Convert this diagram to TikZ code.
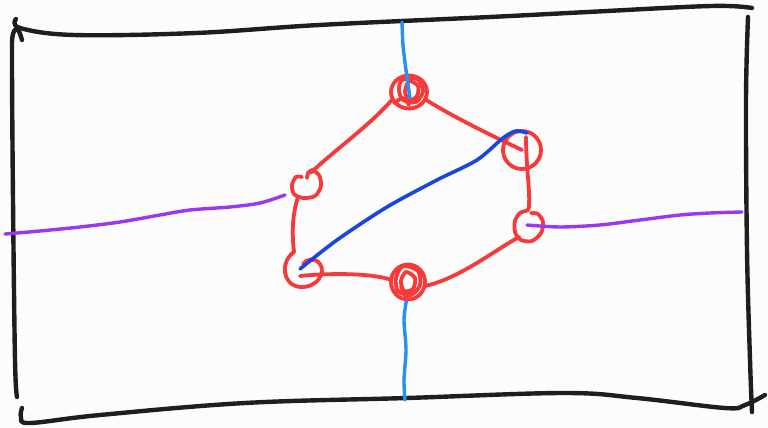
\documentclass[tikz,border=0pt]{standalone}
\usetikzlibrary{shapes.geometric}
\definecolor{bgc}{RGB}{252,252,252}
\definecolor{inkc}{RGB}{30,30,30}
\definecolor{redc}{RGB}{246,58,58}
\definecolor{lbluec}{RGB}{40,145,240}
\definecolor{dbluec}{RGB}{25,70,225}
\definecolor{purc}{RGB}{155,55,240}
\begin{document}
\begin{tikzpicture}[x=1pt,y=-1pt,line cap=round,line join=round,
  frame/.style={draw=inkc,line width=4.4pt},
  redline/.style={draw=redc,line width=3.8pt},
  hole/.style={ellipse,draw=none,inner sep=0pt},
  lblue/.style={draw=lbluec,line width=3.4pt},
  dblue/.style={draw=dbluec,line width=3.6pt},
  purline/.style={draw=purc,line width=3.4pt}]
\fill[bgc] (0,0) rectangle (768,428);
\useasboundingbox (0,0) rectangle (768,428);
% frame
\draw[frame] plot[smooth,tension=0.6] coordinates {(16,19) (20,28) (74,35) (196,33) (319,25) (490,17) (588,12) (711,6) (752,8)};
\draw[frame] plot[smooth,tension=0.6] coordinates {(22,40) (18,30) (13,34) (12,60) (13,200) (15,360) (17,397)};
\draw[frame] plot[smooth,tension=0.6] coordinates {(748,17) (746,100) (747,250) (750,360) (752,412)};
\draw[frame] plot[smooth,tension=0.6] coordinates {(22,408) (21,417) (30,423) (100,415) (245,403) (407,398) (564,393) (637,398) (725,408) (745,405) (765,395)};
% nodes (named areas)
\node[hole,minimum width=38pt,minimum height=36pt] (T) at (409,92) {};
\node[hole,minimum width=40pt,minimum height=40pt] (TR) at (522,150) {};
\node[hole,minimum width=28pt,minimum height=28pt] (L) at (306,186) {};
\node[hole,minimum width=38pt,minimum height=34pt] (BL) at (304,269) {};
\node[hole,minimum width=36pt,minimum height=38pt] (B) at (408,282) {};
\node[hole,minimum width=30pt,minimum height=36pt] (R) at (529,223) {};
% node rings and scribbles
\draw[redline] (T.center) ellipse [x radius=18pt, y radius=16.5pt];
\draw[redline,shift={(T.center)}] plot[smooth cycle] coordinates {(-7,-12) (8,-13) (14,-1) (7,10) (-6,8) (-10,-2)};
\draw[redline,shift={(T.center)}] plot[smooth cycle] coordinates {(0,-11) (9,-6) (8,4) (1,8) (-4,0)};
\draw[redline,shift={(T.center)}] plot[smooth] coordinates {(-15,11) (-6,6) (0,13)};
\draw[redline] (TR.center) circle [radius=19pt];
\draw[redline] (B.center) ellipse [x radius=17pt, y radius=17.5pt];
\draw[redline,shift={(B.center)}] plot[smooth cycle] coordinates {(-5,-16) (10,-11) (12,3) (3,13) (-10,9) (-12,-4)};
\draw[redline,shift={(B.center)}] plot[smooth cycle] coordinates {(-2,-10) (7,-4) (5,7) (-4,9) (-7,-1)};
\draw[redline,shift={(B.center)}] plot[smooth] coordinates {(-7,4) (-2,15) (3,8)};
\draw[redline,shift={(R.center)}] plot[smooth] coordinates {(0,-18) (-1,-13) (-9,-10) (-14,-2) (-14,9) (-8,17) (3,18) (12,10) (14,-1) (9,-9) (2,-10)};
\draw[redline,shift={(L.center)}] plot[smooth] coordinates {(6,-16) (13,-11) (15,0) (9,10) (-3,12) (-12,8) (-14,-1) (-10,-9) (-4,-9)};
\draw[redline,shift={(L.center)}] plot[smooth] coordinates {(6,-16) (2,-13) (1,-8)};
% red connectors
\draw[redline] (T.205) .. controls (370,125) and (335,150) .. (L.70);
\draw[redline] (T.-25) .. controls (450,115) and (490,135) .. (TR.center);
\draw[redline] ([xshift=4pt,yshift=13pt]TR.center) .. controls (526,165) and (530,190) .. (R.north);
\draw[redline] (L.235) .. controls (292,215) and (292,235) .. (294,252)
  .. controls (280,262) and (282,285) .. (300,287)
  .. controls (318,288) and (326,272) .. (320,264)
  .. controls (315,257) and (306,259) .. (303,264);
\draw[redline] ([xshift=-4pt,yshift=-7pt]BL.center) .. controls (330,273) and (370,273) .. (B.172);
\draw[redline] (B.-12) .. controls (460,278) and (495,250) .. (R.235);
% blue lines
\draw[lblue] plot[smooth] coordinates {(402,22) (403,45) (406,70) (410,98)};
\draw[lblue] plot[smooth] coordinates {(B.265) (404,320) (406,350) (404,380) (405,400)};
\draw[dblue] plot[smooth] coordinates {(300,269) (337,240) (387,207) (437,180) (477,160) (503,138) (516,131) (527,133)};
% purple lines
\draw[purline] plot[smooth] coordinates {(5,234) (40,231) (80,227) (120,222) (160,215) (190,210) (230,207) (260,203) (285,195)};
\draw[purline] plot[smooth] coordinates {(527,225) (560,227) (600,225) (640,220) (680,215) (710,213) (742,212)};
\end{tikzpicture}
\end{document}
